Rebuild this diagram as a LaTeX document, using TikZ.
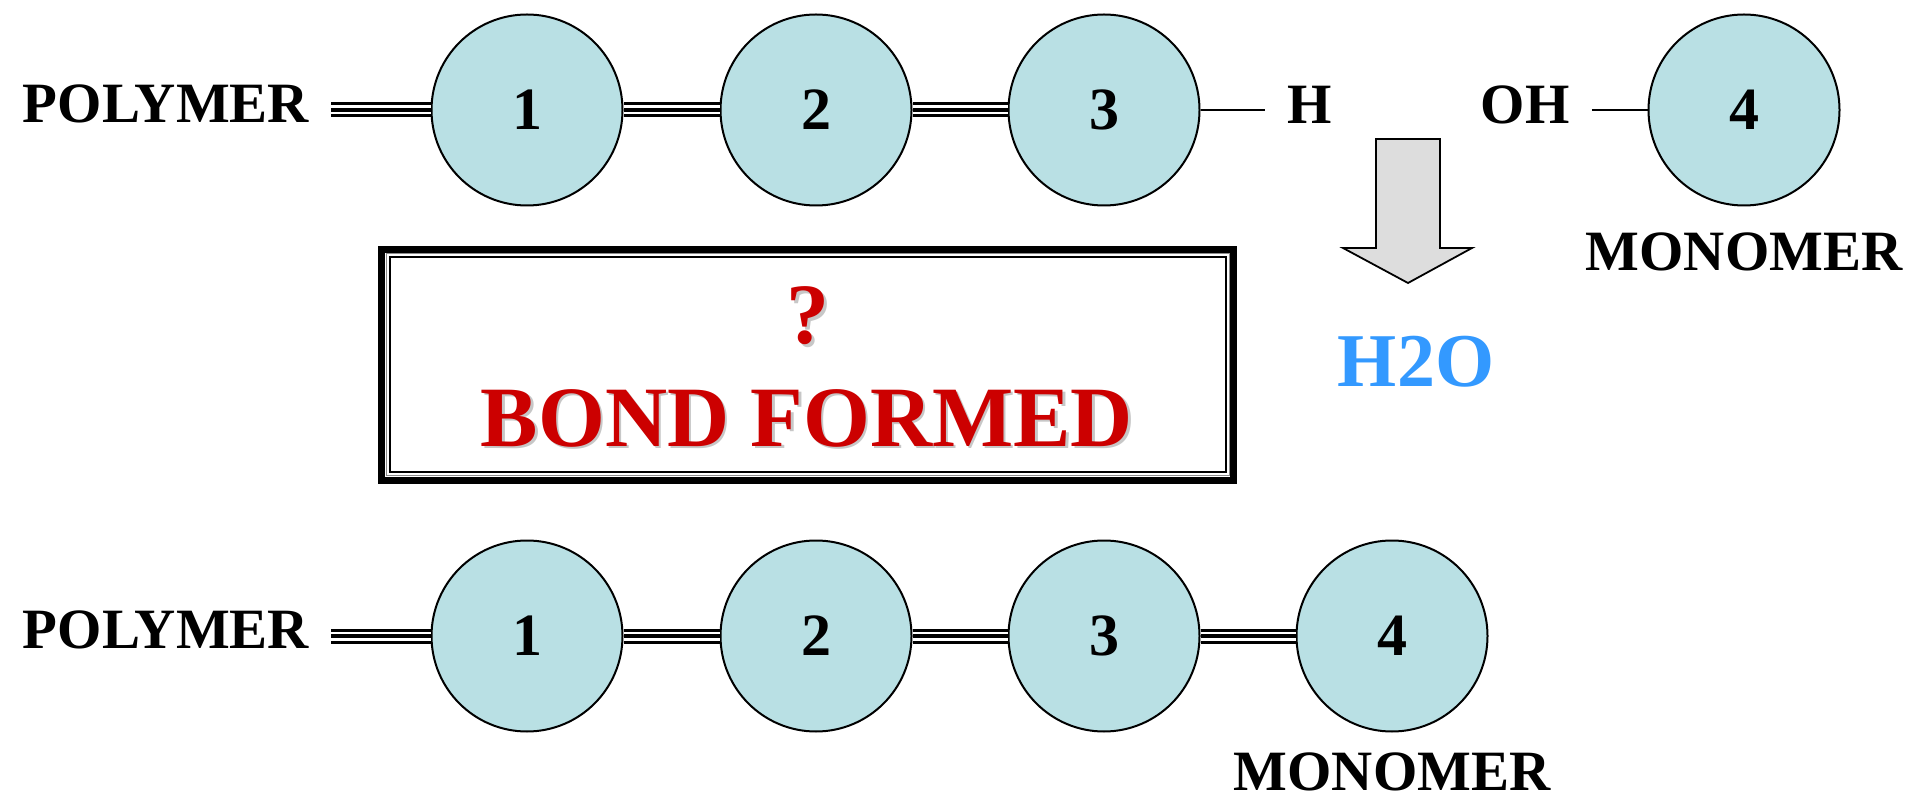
\documentclass[tikz,border=0pt]{standalone}
\usepackage{fontspec}
\setmainfont{Liberation Serif}
\usepackage{tikz}
\usetikzlibrary{positioning, calc}

\definecolor{atomfill}{RGB}{185,224,228}
\definecolor{bondred}{RGB}{204,0,0}
\definecolor{waterblue}{RGB}{51,153,255}
\definecolor{arrowgray}{RGB}{221,221,221}

\tikzset{
  atom/.style={circle, draw, line width=1pt, fill=atomfill, minimum size=95.5pt, inner sep=0pt,
    font=\bfseries\fontsize{30}{32}\selectfont},
  chainlabel/.style={inner sep=11pt, font=\bfseries\fontsize{28.5}{30}\selectfont},
  bond/.style={line width=7.5pt, postaction={draw=white, line width=4.5pt}, postaction={draw=black, line width=1.6pt}},
  single/.style={line width=1pt},
  boxtext/.style={inner sep=0pt, font=\bfseries\fontsize{43}{45}\selectfont, text=bondred},
  boxshadow/.style={boxtext, text=black!22}
}

\begin{document}
\begin{tikzpicture}[x=0.5pt, y=-0.5pt]
    \useasboundingbox (0,0) rectangle (1915,801);

    % polymer chain before the reaction
    \node[chainlabel] (poly1) at (166,104) {POLYMER};
    \node[atom] (a1) at (527,110) {1};
    \node[atom] (a2) at (816,110) {2};
    \node[atom] (a3) at (1104,110) {3};
    \node[chainlabel] (hyd) at (1310,104.5) {H};
    \node[chainlabel] (oh) at (1525,104.5) {OH};
    \node[atom] (a4) at (1744,110) {4};
    \node[chainlabel, inner sep=0pt] (mono1) at (1744,251.5) {MONOMER};

    \draw[bond] (poly1.east |- a1) -- (a1);
    \draw[bond] (a1) -- (a2);
    \draw[bond] (a2) -- (a3);
    \draw[single] (a3) -- (a3 -| hyd.west);
    \draw[single] (oh.east |- a4) -- (a4);

    % water leaves
    \draw[fill=arrowgray, line width=0.9pt] (1376,139) -- (1440,139) -- (1440,248) -- (1472,248)
      -- (1408,283) -- (1343,248) -- (1376,248) -- cycle;
    \node[inner sep=0pt, font=\bfseries\fontsize{38}{40}\selectfont, text=waterblue] (water) at (1416,362) {H2O};

    % the question box
    \node[draw, line width=3.5pt, minimum width=426pt, minimum height=115.5pt, inner sep=0pt] (bondbox) at (807.5,365) {};
    \draw[black!45, line width=0.5pt] ([shift={(8,8)}]bondbox.north west) rectangle ([shift={(-8,-8)}]bondbox.south east);
    \draw[line width=1pt] ([shift={(11.5,11.5)}]bondbox.north west) rectangle ([shift={(-11.5,-11.5)}]bondbox.south east);
    \node[boxshadow] (qshadow) at (810.5,318.5) {?};
    \node[boxtext] (qmark) at (808,316) {?};
    \node[boxshadow] (bshadow) at (809.5,420.5) {BOND FORMED};
    \node[boxtext] (bondtxt) at (807,418) {BOND FORMED};

    % polymer chain after the reaction
    \node[chainlabel] (poly2) at (166,630) {POLYMER};
    \node[atom] (b1) at (527,636) {1};
    \node[atom] (b2) at (816,636) {2};
    \node[atom] (b3) at (1104,636) {3};
    \node[atom] (b4) at (1392,636) {4};
    \node[chainlabel, inner sep=0pt] (mono2) at (1392,772) {MONOMER};

    \draw[bond] (poly2.east |- b1) -- (b1);
    \draw[bond] (b1) -- (b2);
    \draw[bond] (b2) -- (b3);
    \draw[bond] (b3) -- (b4);
\end{tikzpicture}
\end{document}
